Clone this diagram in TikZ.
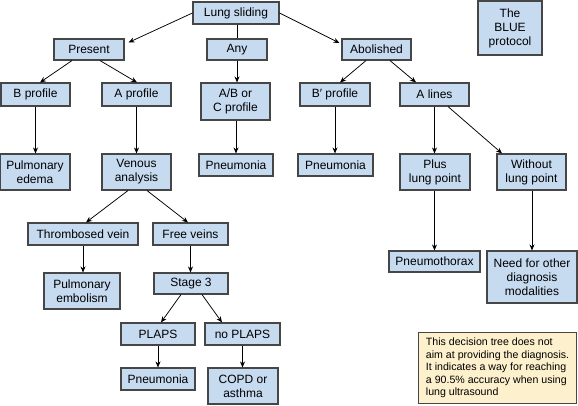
\documentclass[tikz,border=0pt]{standalone}
\usepackage{fontspec}
\setmainfont{Liberation Sans}
\usetikzlibrary{arrows.meta,calc}
\definecolor{boxfill}{RGB}{198,218,240}
\definecolor{boxline}{RGB}{70,70,70}
\definecolor{notefill}{RGB}{253,240,204}
\tikzset{
  bx/.style={draw=boxline, fill=boxfill, line width=1.1pt, inner sep=0pt, align=center,
    font=\fontsize{12}{14}\selectfont},
  notebox/.style={draw=boxline, fill=notefill, line width=1.1pt, inner xsep=7pt, inner ysep=0pt,
    align=left, font=\fontsize{10.6}{12.6}\selectfont, anchor=north west},
  arr/.style={draw=black, line width=0.75pt, -{Stealth[length=6pt,width=5pt]}},
  ln/.style={draw=black, line width=0.75pt}
}
\begin{document}
\begin{tikzpicture}[x=1pt,y=-1pt]
\useasboundingbox (0,0) rectangle (578,405);
% row 1
\node[bx, minimum width=86, minimum height=22] (lung) at (236,13) {Lung sliding};
\node[bx, minimum width=70, minimum height=21] (present) at (89,49.5) {Present};
\node[bx, minimum width=60, minimum height=21] (any) at (237,49.5) {Any};
\node[bx, minimum width=69, minimum height=21] (abol) at (376.5,49.5) {Abolished};
\node[bx, minimum width=64, minimum height=54] (blue) at (510,28) {The\\BLUE\\protocol};
% row 2
\node[bx, minimum width=69, minimum height=23] (bprof) at (35.5,94.5) {B profile};
\node[bx, minimum width=69, minimum height=23] (aprof) at (136.5,94.5) {A profile};
\node[bx, minimum width=69, minimum height=37] (abc) at (235.5,101.5) {A/B or\\C profile};
\node[bx, minimum width=70, minimum height=23] (bprime) at (335,94.5) {B′ profile};
\node[bx, minimum width=69, minimum height=23] (alines) at (434.5,94.5) {A lines};
% row 3
\node[bx, minimum width=70, minimum height=36] (pedema) at (35,172) {Pulmonary\\edema};
\node[bx, minimum width=69, minimum height=36] (venous) at (136.5,172) {Venous\\analysis};
\node[bx, minimum width=74, minimum height=22] (pneuA) at (236,165) {Pneumonia};
\node[bx, minimum width=75, minimum height=22] (pneuB) at (335.5,165) {Pneumonia};
\node[bx, minimum width=70, minimum height=36] (plus) at (435,172) {Plus\\lung point};
\node[bx, minimum width=69, minimum height=36] (without) at (531.5,172) {Without\\lung point};
% row 4
\node[bx, minimum width=110, minimum height=22] (thromb) at (83,234) {Thrombosed vein};
\node[bx, minimum width=75, minimum height=22] (free) at (190.5,234) {Free veins};
\node[bx, minimum width=91, minimum height=21] (pthorax) at (434.5,261.5) {Pneumothorax};
\node[bx, minimum width=90, minimum height=52] (need) at (532,277) {Need for other\\diagnosis\\modalities};
% row 5
\node[bx, minimum width=76, minimum height=36] (pemb) at (82,291) {Pulmonary\\embolism};
\node[bx, minimum width=74, minimum height=21] (stage) at (191,283.5) {Stage 3};
\node[bx, minimum width=74, minimum height=22] (plaps) at (158,334) {PLAPS};
\node[bx, minimum width=75, minimum height=22] (noplaps) at (242.5,334) {no PLAPS};
\node[bx, minimum width=74, minimum height=22] (pneuC) at (158,379) {Pneumonia};
\node[bx, minimum width=70, minimum height=36] (copd) at (243,386) {COPD or\\asthma};
% note
\node[notebox, minimum width=158, minimum height=71] (note) at (418,332)
  {This decision tree does not\\aim at providing the diagnosis.\\It indicates a way for reaching\\a 90.5\% accuracy when using\\lung ultrasound};
% connectors
\draw[arr] (lung.west) -- ($(present.north east)+(4,4)$);
\draw[ln] (lung.south -| any.north) -- (any.north);
\draw[arr] (lung.east) -- ($(abol.west)+(-2,-6.5)$);
\draw[arr] ($(present.south)+(-17,0)$) -- ($(bprof.north)+(4.5,0)$);
\draw[arr] ($(present.south)+(11,0)$) -- ($(aprof.north)+(0.5,0)$);
\draw[arr] (any.south) -- (any.south |- abc.north);
\draw[arr] ($(abol.south)+(-10.5,0)$) -- ($(bprime.north)+(5,0)$);
\draw[arr] ($(abol.south)+(13.5,0)$) -- ($(alines.north)+(-18.5,0)$);
\draw[arr] (bprof.south) -- (bprof.south |- pedema.north);
\draw[arr] (aprof.south) -- (venous.north);
\draw[arr] (abc.south -| pneuA.north) -- (pneuA.north);
\draw[arr] (bprime.south) -- (bprime.south |- pneuB.north);
\draw[arr] (alines.south) -- (alines.south |- plus.north);
\draw[arr] ($(alines.south)+(13.5,0)$) -- ($(without.north)+(-29.5,0)$);
\draw[arr] (plus.south -| pthorax.north) -- (pthorax.north);
\draw[arr] (without.south -| need.north) -- (need.north);
\draw[arr] ($(venous.south)+(-8.5,0)$) -- ($(thromb.north)+(3,0)$);
\draw[arr] ($(venous.south)+(10.5,0)$) -- ($(free.north)+(-2.5,0)$);
\draw[arr] (thromb.south) -- (thromb.south |- pemb.north);
\draw[arr] (free.south) -- (free.south |- stage.north);
\draw[arr] ($(stage.south)+(-10,0)$) -- ($(plaps.north)+(3,0)$);
\draw[arr] ($(stage.south)+(11,0)$) -- ($(noplaps.north)+(-20.5,0)$);
\draw[arr] (plaps.south) -- (pneuC.north);
\draw[arr] (noplaps.south) -- (noplaps.south |- copd.north);
\end{tikzpicture}
\end{document}
